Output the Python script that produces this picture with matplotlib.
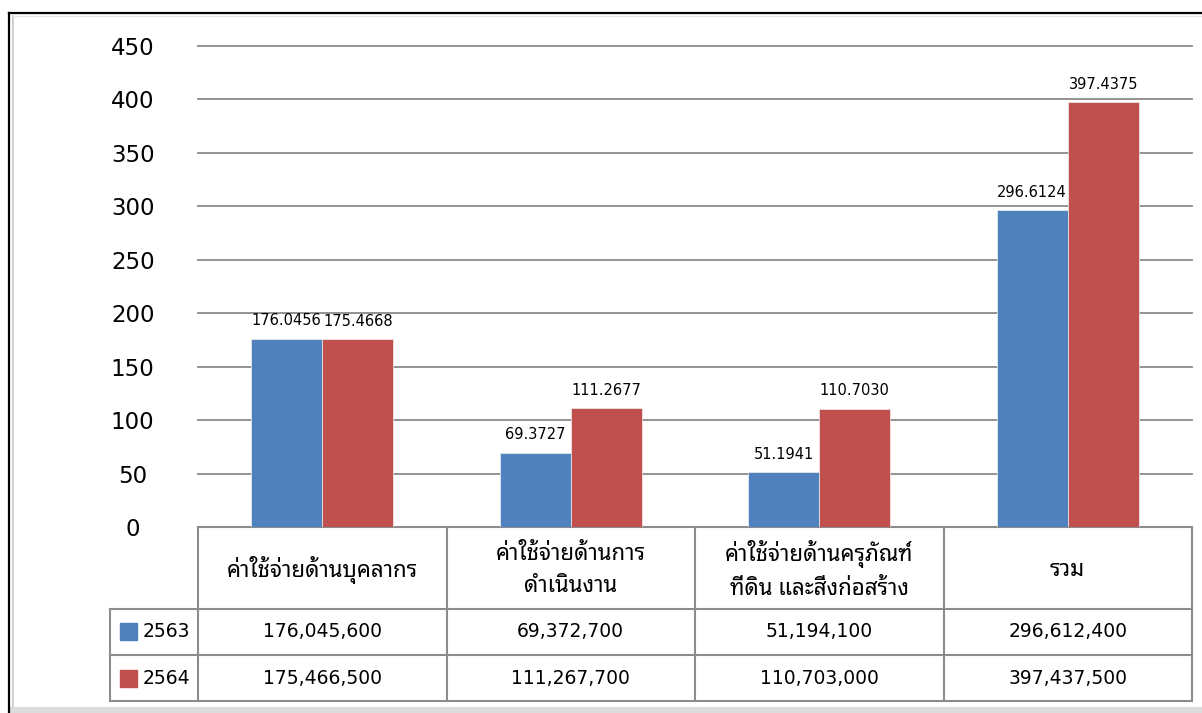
import matplotlib
matplotlib.use("Agg")
import matplotlib.pyplot as plt
import matplotlib.transforms as mtransforms
from matplotlib.patches import Rectangle
from matplotlib.lines import Line2D
import numpy as np

categories = ["ค่าใช้จ่ายด้านบุคลากร",
              "ค่าใช้จ่ายด้านการ\nดำเนินงาน",
              "ค่าใช้จ่ายด้านครุภัณฑ์\nที่ดิน และสิ่งก่อสร้าง",
              "รวม"]
years = ["2563", "2564"]
# bar heights (million baht) as labelled on the chart
values_2563 = [176.0456, 69.3727, 51.1941, 296.6124]
values_2564 = [175.4668, 111.2677, 110.7030, 397.4375]
# figures in the data table (baht)
budget_2563 = [176045600, 69372700, 51194100, 296612400]
budget_2564 = [175466500, 111267700, 110703000, 397437500]
yticks = [0, 50, 100, 150, 200, 250, 300, 350, 400, 450]

colors = ["#4F81BD", "#C0504D"]
plt.rcParams["font.family"] = ["DejaVu Sans", "Noto Sans Thai Looped"]

fig = plt.figure(figsize=(12.02, 7.13), dpi=100)
W, H = 1202, 713

# outer frame of the pasted picture
fig.add_artist(Line2D([9 / W, 9 / W], [0, 1 - 13 / H], color="black", lw=1.6))
fig.add_artist(Line2D([9 / W, 1], [1 - 13 / H, 1 - 13 / H], color="black", lw=1.6))
fig.add_artist(Line2D([13 / W, 13 / W], [6 / H, 1 - 16 / H], color="#c8c8c8", lw=1.2))
fig.add_artist(Line2D([13 / W, 1], [1 - 16 / H, 1 - 16 / H], color="#e6e6e6", lw=1.0))
fig.add_artist(Rectangle((10 / W, 0), 1, 6 / H, color="#dcdcdc", lw=0))

ax = fig.add_axes([198 / W, (H - 527) / H, 994 / W, 481 / H])
x = np.arange(len(categories))
bw = 0.286
vals = [values_2563, values_2564]
for k in range(2):
    bars = ax.bar(x + (k - 0.5) * bw, vals[k], bw, color=colors[k],
                  edgecolor="#f0f0f0", linewidth=0.5, zorder=3)
    for b, v in zip(bars, vals[k]):
        ax.annotate("%.4f" % v, (b.get_x() + b.get_width() / 2, v),
                    xytext=(0, 7.5), textcoords="offset points",
                    ha="center", va="bottom", fontsize=10.5, color="black")

ax.set_xlim(-0.5, len(categories) - 0.5)
ax.set_ylim(0, 450)
ax.set_yticks(yticks)
ax.set_yticklabels([str(t) for t in yticks], fontsize=16.5, ha="center")
ax.tick_params(axis="y", length=0, pad=47)
ax.set_xticks([])
for t in yticks[1:]:
    ax.axhline(t, color="#8a8a8a", lw=1.3, zorder=1, clip_on=False)
for s in ax.spines.values():
    s.set_visible(False)

# data table under the chart
tr = mtransforms.blended_transform_factory(ax.transData, ax.transAxes)
grid_kw = dict(color="#8c8c8c", lw=1.5, transform=tr, clip_on=False)
left = -0.854
rows = [0, -0.1705, -0.266, -0.3617]
ax.plot([-0.5, x[-1] + 0.5], [rows[0], rows[0]], **grid_kw)
for r in rows[1:]:
    ax.plot([left, x[-1] + 0.5], [r, r], **grid_kw)
ax.plot([left, left], [rows[1], rows[3]], **grid_kw)
for c in np.append(x - 0.5, x[-1] + 0.5):
    ax.plot([c, c], [rows[0], rows[3]], **grid_kw)

for i, cat in enumerate(categories):
    ax.text(x[i], -0.09, cat, transform=tr, ha="center", va="center",
            fontsize=16, linespacing=1.7,
            family=["Noto Sans Thai Looped", "DejaVu Sans"])
row_mid = [-0.218, -0.314]
data = [budget_2563, budget_2564]
for k in range(2):
    ax.add_patch(Rectangle((-0.814, row_mid[k] - 0.0177), 0.068, 0.0354,
                           transform=tr, color=colors[k], clip_on=False))
    ax.text(-0.721, row_mid[k], years[k], transform=tr, ha="left",
            va="center", fontsize=13.5)
    for i in range(len(categories)):
        ax.text(x[i], row_mid[k], "{:,}".format(data[k][i]), transform=tr,
                ha="center", va="center", fontsize=13.5)

fig.savefig("out.png", dpi=100)
